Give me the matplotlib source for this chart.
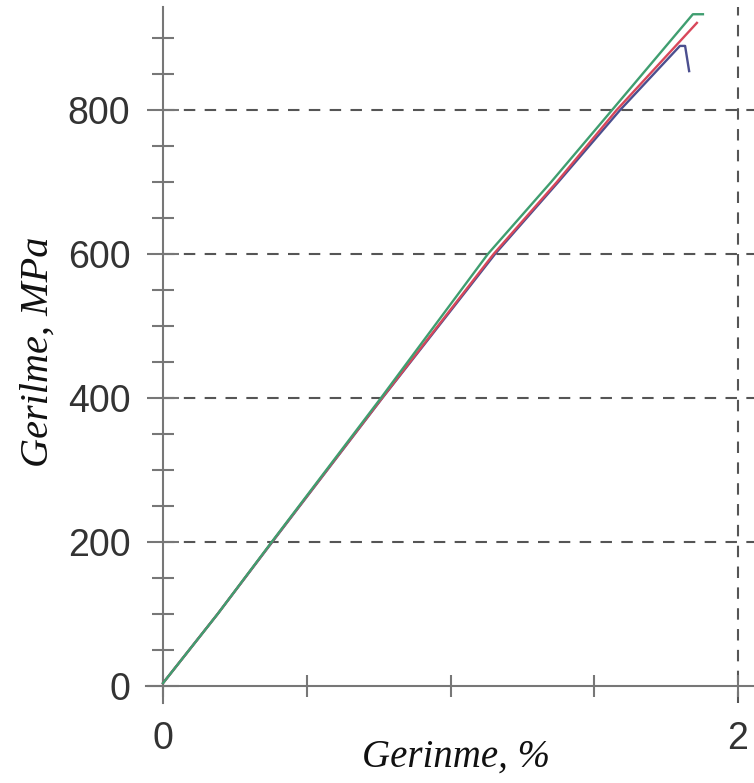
import matplotlib
matplotlib.use("Agg")
import matplotlib.pyplot as plt
from matplotlib.ticker import MultipleLocator

# ---- data ----
green_strain = [0.0, 0.19, 0.378, 0.758, 1.13, 1.35, 1.562, 1.843, 1.878]
green_stress = [4, 100, 200, 400, 600, 700, 800, 933, 933]

red_strain = [0.0, 0.19, 0.379, 0.762, 1.15, 1.37, 1.578, 1.857]
red_stress = [4, 100, 200, 400, 600, 700, 800, 921]

blue_strain = [0.0, 0.19, 0.38, 0.763, 1.155, 1.375, 1.59, 1.798, 1.816, 1.83]
blue_stress = [4, 100, 200, 400, 600, 700, 800, 889, 889, 854]

x_ticks = [0, 0.5, 1.0, 1.5, 2.0]
x_tick_labels = ["0", "", "", "", "2"]
y_ticks = [0, 200, 400, 600, 800]
y_grid = [200, 400, 600, 800]
x_grid = [2.0]

W, H = 754, 783
fig = plt.figure(figsize=(W / 100, H / 100), dpi=100)
ax = fig.add_axes([146 / W, 80 / H, 608 / W, 696 / H])

xmin, xmax = -17 / 287.5, 591 / 287.5
ymin, ymax = -17 / 0.72, 679 / 0.72
ax.set_xlim(xmin, xmax)
ax.set_ylim(ymin, ymax)

grid_color = "#555555"
dash = (0, (5.5, 4.5))
for y in y_grid:
    ax.hlines(y, 0, xmax, colors=grid_color, linestyles=dash, linewidth=1.5, zorder=1)
for x in x_grid:
    ax.vlines(x, ymin, ymax, colors=grid_color, linestyles=dash, linewidth=1.5, zorder=1)

ax.plot(blue_strain, blue_stress, color="#4b4f8f", linewidth=1.7, zorder=3)
ax.plot(red_strain, red_stress, color="#d8475a", linewidth=1.7, zorder=4)
ax.plot(green_strain, green_stress, color="#3f9e70", linewidth=1.7, zorder=5)

spine_color = "#777777"
for s in ["top", "right"]:
    ax.spines[s].set_visible(False)
ax.spines["left"].set_position(("data", 0))
ax.spines["bottom"].set_position(("data", 0))
for s in ["left", "bottom"]:
    ax.spines[s].set_color(spine_color)
    ax.spines[s].set_linewidth(1.5)

ax.set_xticks(x_ticks)
ax.set_xticklabels(x_tick_labels)
ax.set_yticks(y_ticks)
ax.set_yticklabels([str(v) for v in y_ticks])
ax.yaxis.set_minor_locator(MultipleLocator(50))

ax.tick_params(axis="x", which="major", direction="inout", length=16, width=1.5,
               color=spine_color, pad=17, labelsize=27, labelcolor="#333333")
ax.tick_params(axis="y", which="major", direction="inout", length=23, width=1.5,
               color=spine_color, pad=12, labelsize=27, labelcolor="#333333")
ax.tick_params(axis="y", which="minor", direction="inout", length=16.5, width=1.5,
               color=spine_color)
for lab in ax.get_xticklabels() + ax.get_yticklabels():
    lab.set_fontfamily("Liberation Sans")

ax.set_facecolor("none")

fig.text(38 / W, 1 - 352 / H, "Gerilme, MPa", rotation=90, ha="center", va="center",
         fontsize=29, fontstyle="italic", family="Liberation Serif", color="#111111")
fig.text(456 / W, 1 - 757 / H, "Gerinme, %", ha="center", va="center",
         fontsize=28, fontstyle="italic", family="Liberation Serif", color="#111111")

fig.savefig("out.png", dpi=100)
